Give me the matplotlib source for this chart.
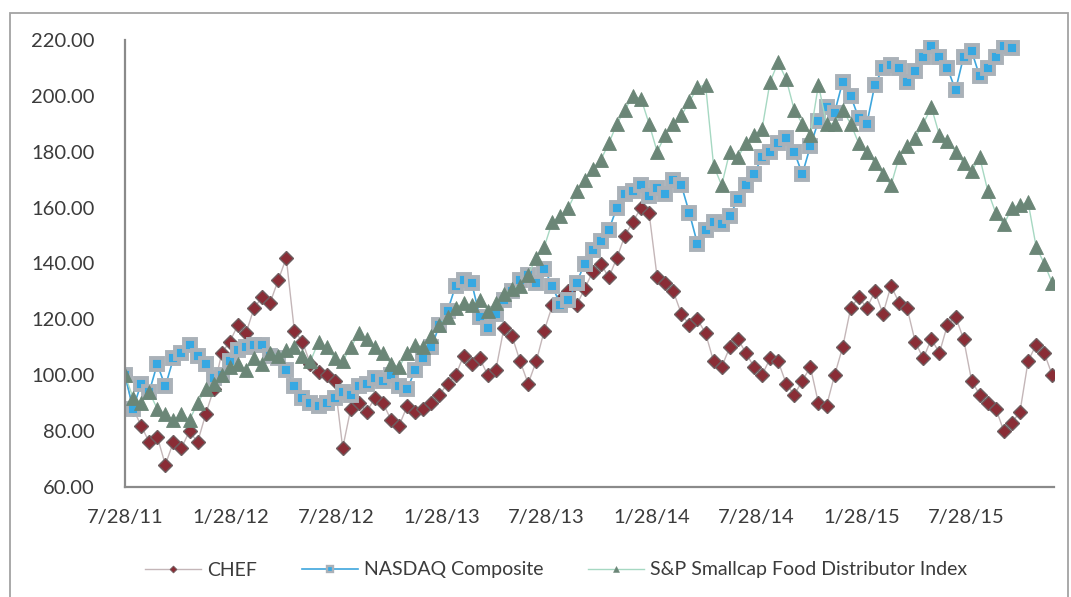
import matplotlib
matplotlib.use("Agg")
import matplotlib.dates as mdates
import matplotlib.pyplot as plt
import pandas as pd
from matplotlib.patches import Rectangle
from matplotlib.ticker import FormatStrFormatter

# values, one every two weeks starting 7/28/11
START = "2011-07-28"
STEP = "14D"

chef = [
    100, 88, 82, 76, 78, 68, 76, 74, 80, 76,
    86, 95, 108, 112, 118, 115, 124, 128, 126, 134,
    142, 116, 112, 104, 101, 100, 98, 74, 88, 90,
    87, 92, 90, 84, 82, 89, 87, 88, 90, 93,
    97, 100, 107, 104, 106, 100, 102, 117, 114, 105,
    97, 105, 116, 125, 127, 130, 125, 131, 137, 140,
    135, 142, 150, 155, 160, 158, 135, 133, 130, 122,
    118, 120, 115, 105, 103, 110, 113, 108, 103, 100,
    106, 105, 97, 93, 98, 103, 90, 89, 100, 110,
    124, 128, 124, 130, 122, 132, 126, 124, 112, 106,
    113, 108, 118, 121, 113, 98, 93, 90, 88, 80,
    83, 87, 105, 111, 108, 100,
]

nasdaq = [
    100, 88, 97, 94, 104, 96, 106, 108, 111, 107,
    104, 99, 100, 105, 109, 110, 111, 111, 107, 106,
    102, 96, 92, 90, 89, 90, 92, 94, 93, 96,
    97, 99, 98, 100, 96, 95, 102, 106, 110, 118,
    123, 132, 134, 133, 121, 117, 122, 127, 130, 134,
    136, 133, 138, 132, 125, 127, 133, 140, 145, 148,
    152, 160, 165, 166, 168, 164, 167, 165, 170, 168,
    158, 147, 152, 155, 154, 157, 163, 168, 172, 178,
    180, 183, 185, 180, 172, 182, 191, 196, 194, 205,
    200, 192, 190, 204, 210, 211, 210, 205, 209, 214,
    218, 214, 210, 202, 214, 216, 207, 210, 214, 218,
    217,
]

sp_food = [
    100, 92, 90, 94, 88, 86, 84, 86, 84, 90,
    95, 97, 100, 103, 104, 102, 106, 104, 108, 107,
    109, 110, 107, 105, 112, 110, 106, 105, 110, 115,
    113, 110, 108, 104, 103, 108, 111, 110, 114, 118,
    121, 124, 126, 125, 127, 123, 126, 129, 131, 132,
    136, 142, 146, 155, 157, 160, 166, 170, 174, 177,
    183, 190, 195, 200, 199, 190, 180, 186, 190, 193,
    198, 203, 204, 175, 168, 180, 178, 183, 186, 188,
    205, 212, 206, 195, 190, 186, 204, 190, 190, 195,
    190, 183, 180, 176, 172, 168, 178, 182, 185, 190,
    196, 186, 184, 180, 176, 173, 178, 166, 158, 154,
    160, 161, 162, 146, 140, 133,
]

labels = ["CHEF", "NASDAQ Composite", "S&P Smallcap Food Distributor Index"]
tick_dates = ["2011-07-28", "2012-01-28", "2012-07-28", "2013-01-28", "2013-07-28",
              "2014-01-28", "2014-07-28", "2015-01-28", "2015-07-28"]
y_ticks = [60, 80, 100, 120, 140, 160, 180, 200, 220]

TEXT = "#3b3b3b"
AXIS = "#8a8a8a"


def main():
    plt.rcParams["font.family"] = ["Lato", "DejaVu Sans"]

    n = max(len(chef), len(nasdaq), len(sp_food))
    dates = pd.date_range(START, periods=n, freq=STEP)

    fig = plt.figure(figsize=(10.71, 5.97), dpi=100)
    ax = fig.add_axes([125 / 1071, 1 - 487 / 597, (1054 - 125) / 1071, (487 - 40) / 597])

    ax.plot(dates[:len(chef)], chef, color="#c4b6b8", lw=1.0,
            marker="D", ms=7, mfc="#8a2d36", mec="#6e5e60", mew=1.0, label=labels[0])
    ax.plot(dates[:len(nasdaq)], nasdaq, color="#3ea6dd", lw=1.2,
            marker="s", ms=9, mfc="#36a8e2", mec="#aab1b8", mew=2.8, label=labels[1])
    ax.plot(dates[:len(sp_food)], sp_food, color="#a6d8c2", lw=1.0,
            marker="^", ms=10, mfc="#6b8677", mec="#6b8677", mew=0.6, label=labels[2])

    ax.set_ylim(60, 220)
    ax.set_yticks(y_ticks)
    ax.yaxis.set_major_formatter(FormatStrFormatter("%.2f"))
    ax.set_xlim(pd.Timestamp("2011-07-28"), pd.Timestamp("2015-12-27"))
    ax.set_xticks(pd.to_datetime(tick_dates))
    ax.xaxis.set_major_formatter(mdates.DateFormatter("%-m/%d/%y"))

    for side in ["top", "right"]:
        ax.spines[side].set_visible(False)
    for side in ["left", "bottom"]:
        ax.spines[side].set_color(AXIS)
        ax.spines[side].set_linewidth(1.6)
    ax.tick_params(axis="both", length=0, labelsize=14.5, colors=TEXT)
    ax.tick_params(axis="y", pad=22)
    ax.tick_params(axis="x", pad=16)

    leg = fig.legend(loc="center", bbox_to_anchor=(556 / 1071, 1 - 570 / 597), ncol=3,
                     frameon=False, fontsize=14, numpoints=1, handlelength=2.9,
                     handletextpad=0.3, columnspacing=2.3)
    for t in leg.get_texts():
        t.set_color(TEXT)
    for h in leg.get_lines():
        h.set_markersize(h.get_markersize() * 0.5)
        h.set_markeredgewidth(h.get_markeredgewidth() * 0.6)

    # outer chart-area border
    fig.patches.append(Rectangle((10 / 1071, -0.01), (1068 - 10) / 1071, 1 - 13 / 597 + 0.01,
                                 transform=fig.transFigure, fill=False,
                                 edgecolor="#a3a3a3", lw=1.3))

    fig.savefig("out.png", dpi=100)
    plt.close(fig)


if __name__ == "__main__":
    main()
